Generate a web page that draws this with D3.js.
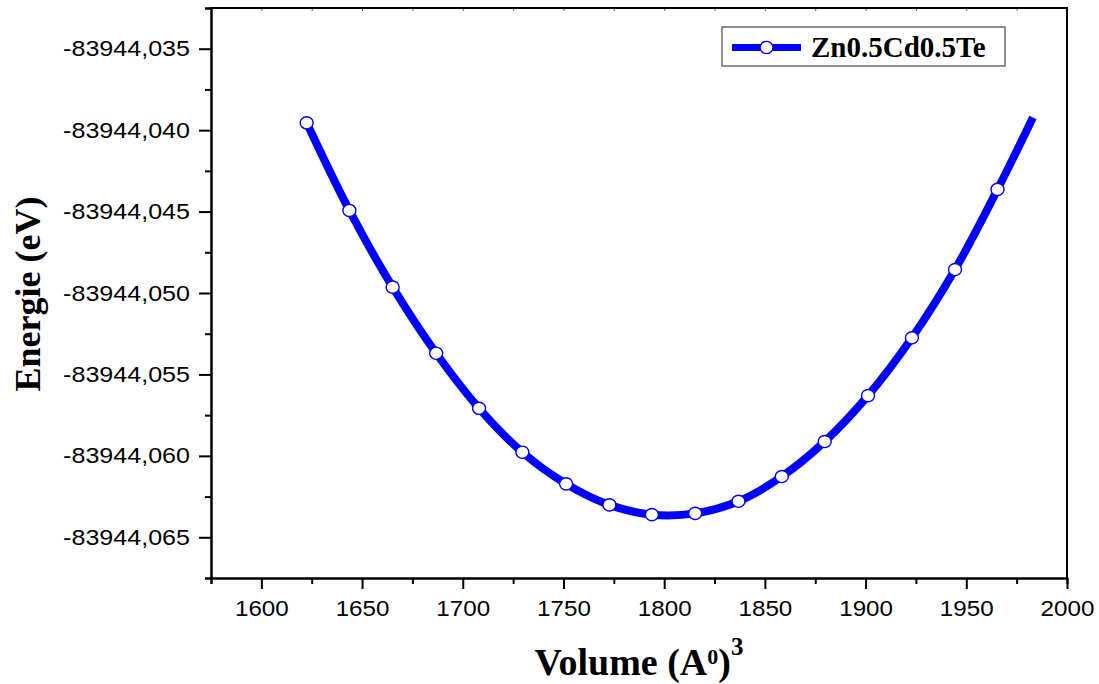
<!DOCTYPE html>
<html>
<head>
<meta charset="utf-8">
<script src="https://cdn.jsdelivr.net/npm/d3@7"></script>
<style>
  html, body { margin: 0; padding: 0; background: #fff; }
  svg { display: block; }
</style>
</head>
<body>
<svg id="chart" width="1099" height="684"></svg>
<script>
// ---- data ----
const seriesName = "Zn0.5Cd0.5Te";
const volume = [1622.5, 1643.7, 1665.2, 1686.8, 1708.1, 1729.6, 1751.3, 1772.8, 1793.9,
                1815.4, 1836.9, 1858.4, 1879.7, 1901.2, 1923.0, 1944.4, 1965.5, 1983.1];
const energy = [-83944.03955, -83944.04493, -83944.04964, -83944.05370, -83944.05708,
                -83944.05978, -83944.06172, -83944.06301, -83944.06361, -83944.06353,
                -83944.06279, -83944.06127, -83944.05912, -83944.05630, -83944.05275,
                -83944.04856, -83944.04364, -83944.03922];
const markedPoints = 17; // the last curve point carries no marker
const xTicks = [1600, 1650, 1700, 1750, 1800, 1850, 1900, 1950, 2000];
const yTicks = [-83944.035, -83944.040, -83944.045, -83944.050, -83944.055, -83944.060, -83944.065];
const xDomain = [1575, 2000];
const yDomain = [-83944.0675, -83944.0325];

// ---- layout ----
const L = 211, R = 1067, T = 8, B = 578;
const svg = d3.select("#chart");
const x = d3.scaleLinear().domain(xDomain).range([L, R]);
const y = d3.scaleLinear().domain(yDomain).range([B, T]);
const blue = "#0000ff";
const tickFont = "'Liberation Sans', Arial, sans-serif";
const serif = "'Liberation Serif', 'Times New Roman', serif";

const pts = volume.map((v, i) => ({v, e: energy[i]}));

// curve
svg.append("path")
  .datum(pts)
  .attr("fill", "none")
  .attr("stroke", blue)
  .attr("stroke-width", 8)
  .attr("d", d3.line().x(d => x(d.v)).y(d => y(d.e)).curve(d3.curveCatmullRom.alpha(0.5)));

// markers
svg.append("g").selectAll("ellipse")
  .data(pts.slice(0, markedPoints))
  .join("ellipse")
  .attr("cx", d => x(d.v)).attr("cy", d => y(d.e))
  .attr("rx", 6.5).attr("ry", 6.1)
  .attr("fill", "#fff").attr("stroke", blue).attr("stroke-width", 1.4);

// minor ticks
const xMinor = d3.range(xDomain[0], xDomain[1] + 1, 25).filter(v => v % 50 !== 0);
const yMinorVals = d3.range(0, 15).map(i => yDomain[0] + i * 0.0025)
  .filter(v => !yTicks.some(t => Math.abs(t - v) < 1e-6));

function styleAxis(g) {
  g.select(".domain").attr("stroke", "#000").attr("stroke-width", 2);
  g.selectAll(".tick line").attr("stroke", "#000").attr("stroke-width", 2);
}

const gxMinor = svg.append("g").attr("transform", `translate(0,${B})`)
  .call(d3.axisBottom(x).tickValues(xMinor).tickSize(6).tickFormat(""));
styleAxis(gxMinor);
const gyMinor = svg.append("g").attr("transform", `translate(${L},0)`)
  .call(d3.axisLeft(y).tickValues(yMinorVals).tickSize(6).tickFormat(""));
styleAxis(gyMinor);

// top minor ticks (tiny, inward)
const gTop = svg.append("g").attr("transform", `translate(0,${T})`)
  .call(d3.axisBottom(x).tickValues(d3.range(xDomain[0], xDomain[1] + 1, 25)).tickSize(3).tickSizeOuter(0).tickFormat(""));
gTop.select(".domain").remove();
gTop.selectAll(".tick line").attr("stroke", "#666").attr("stroke-width", 1);

// major x axis
const gx = svg.append("g").attr("transform", `translate(0,${B})`)
  .call(d3.axisBottom(x).tickValues(xTicks).tickSize(11).tickSizeOuter(0).tickPadding(11).tickFormat(d => String(d)));
styleAxis(gx);
gx.selectAll("text").attr("font-family", tickFont).attr("font-size", 22).attr("fill", "#000");

// major y axis
const commaFmt = v => d3.format(".3f")(v).replace("\u2212", "-").replace(".", ",");
const gy = svg.append("g").attr("transform", `translate(${L},0)`)
  .call(d3.axisLeft(y).tickValues(yTicks).tickSize(12).tickSizeOuter(0).tickPadding(9).tickFormat(commaFmt));
styleAxis(gy);
gy.selectAll("text").attr("font-family", tickFont).attr("font-size", 22).attr("fill", "#000");

// horizontal stretch of tick labels as in the reference
gx.selectAll("text").each(function() {
  const w = this.getComputedTextLength();
  d3.select(this).attr("textLength", w * 1.1).attr("lengthAdjust", "spacingAndGlyphs");
});
gy.selectAll("text").each(function() {
  const w = this.getComputedTextLength();
  d3.select(this).attr("textLength", w * 1.14).attr("lengthAdjust", "spacingAndGlyphs");
});

// frame top and right
svg.append("line").attr("x1", L - 1).attr("x2", R + 1).attr("y1", T).attr("y2", T)
  .attr("stroke", "#000").attr("stroke-width", 2);
svg.append("line").attr("x1", R).attr("x2", R).attr("y1", T).attr("y2", B)
  .attr("stroke", "#000").attr("stroke-width", 2);

// axis titles
svg.append("text")
  .attr("transform", `translate(40,${(T + B) / 2 + 1}) rotate(-90)`)
  .attr("text-anchor", "middle")
  .attr("font-family", serif).attr("font-weight", "bold").attr("font-size", 36)
  .text("Energie (eV)");

const xt = svg.append("text")
  .attr("x", (L + R) / 2).attr("y", 675)
  .attr("text-anchor", "middle")
  .attr("font-family", serif).attr("font-weight", "bold").attr("font-size", 38);
xt.append("tspan").text("Volume (A");
xt.append("tspan").attr("dy", -11).attr("font-size", 22).text("0");
xt.append("tspan").attr("dy", 11).text(")");
xt.append("tspan").attr("dy", -20).attr("font-size", 25).text("3");

// legend
const lg = svg.append("g");
lg.append("rect").attr("x", 722).attr("y", 27).attr("width", 283).attr("height", 39)
  .attr("fill", "#fff").attr("stroke", "#555").attr("stroke-width", 1.3);
lg.append("line").attr("x1", 732).attr("x2", 801).attr("y1", 47.5).attr("y2", 47.5)
  .attr("stroke", blue).attr("stroke-width", 7);
lg.append("ellipse").attr("cx", 766.5).attr("cy", 47.5).attr("rx", 6.5).attr("ry", 6.1)
  .attr("fill", "#fff").attr("stroke", blue).attr("stroke-width", 1.4);
lg.append("text").attr("x", 811).attr("y", 57)
  .attr("font-family", serif).attr("font-weight", "bold").attr("font-size", 29)
  .text(seriesName);
</script>
</body>
</html>
